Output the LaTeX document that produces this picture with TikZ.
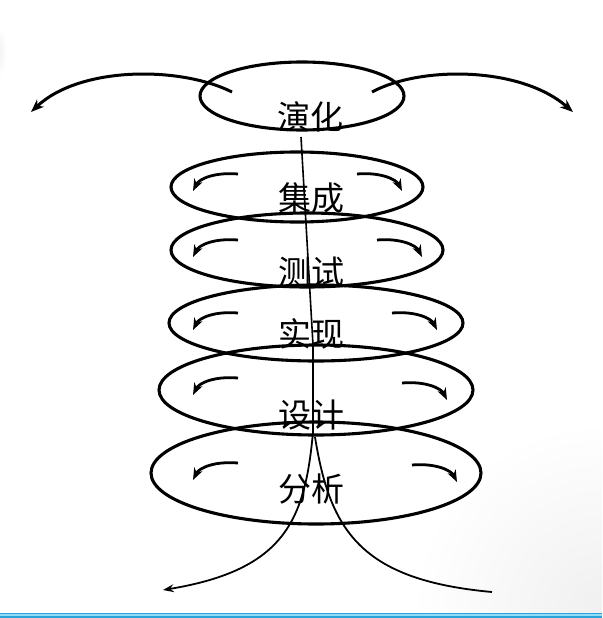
\documentclass[tikz,border=0pt]{standalone}
\usepackage{fontspec}
\newfontfamily\cjk{Noto Sans CJK SC}
\usetikzlibrary{shapes.geometric,arrows.meta}
\definecolor{bandblue}{HTML}{2AA3D8}
\definecolor{bandcyan}{HTML}{8FDDF6}
\tikzset{
  ring/.style={draw=black, line width=3.1pt, ellipse, inner sep=0pt, fill=none},
  lbl/.style={font=\cjk\fontsize{33}{33}\selectfont, inner sep=0pt, text=black},
  swirl/.style={line width=2.8pt, -{Stealth[length=12pt,width=9pt,inset=4pt]}},
  bigarc/.style={line width=3pt, -{Stealth[length=13pt,width=10pt,inset=4pt]}},
  axis/.style={line width=1.6pt},
  outarr/.style={line width=1.8pt, -{Stealth[length=11pt,width=8pt,inset=4pt]}},
}
\begin{document}
\begin{tikzpicture}[x=1pt,y=-1pt]
\useasboundingbox (0,0) rectangle (602,618);
\begin{scope}
\clip (0,0) rectangle (602,612);
\shade[inner color=gray!12, outer color=white] (602,612) circle (190);
\shade[inner color=gray!9, outer color=white] (0,52) ellipse (6 and 26);
\end{scope}
% band
\fill[bandblue] (0,612.5) rectangle (602,618);
\fill[bandcyan] (0,614.3) rectangle (602,616.3);

% rings
\node[ring, minimum width=204pt, minimum height=68pt] (e1) at (302,96) {};
\node[ring, minimum width=252pt, minimum height=70pt] (e2) at (297,187) {};
\node[ring, minimum width=272pt, minimum height=74pt] (e3) at (307,250) {};
\node[ring, minimum width=294pt, minimum height=76pt] (e4) at (316,323) {};
\node[ring, minimum width=314pt, minimum height=90pt] (e5) at (316,390) {};
\node[ring, minimum width=330pt, minimum height=102pt] (e6) at (316,473) {};

% top big arcs
\coordinate (la0) at (232,92); \coordinate (la1) at (31,112);
\coordinate (ra0) at (372,92); \coordinate (ra1) at (573,112);
\draw[bigarc] (la0) .. controls (180,66) and (80,66) .. (la1);
\draw[bigarc] (ra0) .. controls (420,66) and (520,66) .. (ra1);

% swirls inside rings
\foreach \yl/\xr/\yr [count=\i] in {174/357/174, 240/377/240, 313/392/313, 378/402/383, 463/412/465}{
  \draw[swirl] (238,\yl) .. controls (214,\yl-2) and (199,\yl+5) .. (193,\yl+17);
  \draw[swirl] (\xr,\yr) .. controls (\xr+23,\yr-2) and (\xr+39,\yr+5) .. (\xr+45,\yr+17);
}

% central axis
\coordinate (ax0) at (301,137);
\coordinate (ax1) at (313,345);
\coordinate (ax2) at (313,432);
\draw[axis] (ax0) -- (ax1) -- (ax2);
\coordinate (bl) at (163,590);
\coordinate (br) at (492,592);
\draw[outarr] (ax2) .. controls (305,520) and (285,570) .. (bl);
\draw[line width=1.8pt] (315,437) .. controls (330,530) and (360,580) .. (br);

% labels
\node[lbl] (t1) at (310,117) {演化};
\node[lbl] (t2) at (311,198) {集成};
\node[lbl] (t3) at (311,272) {测试};
\node[lbl] (t4) at (311,334) {实现};
\node[lbl] (t5) at (311,415) {设计};
\node[lbl] (t6) at (311,489) {分析};
\end{tikzpicture}
\end{document}
